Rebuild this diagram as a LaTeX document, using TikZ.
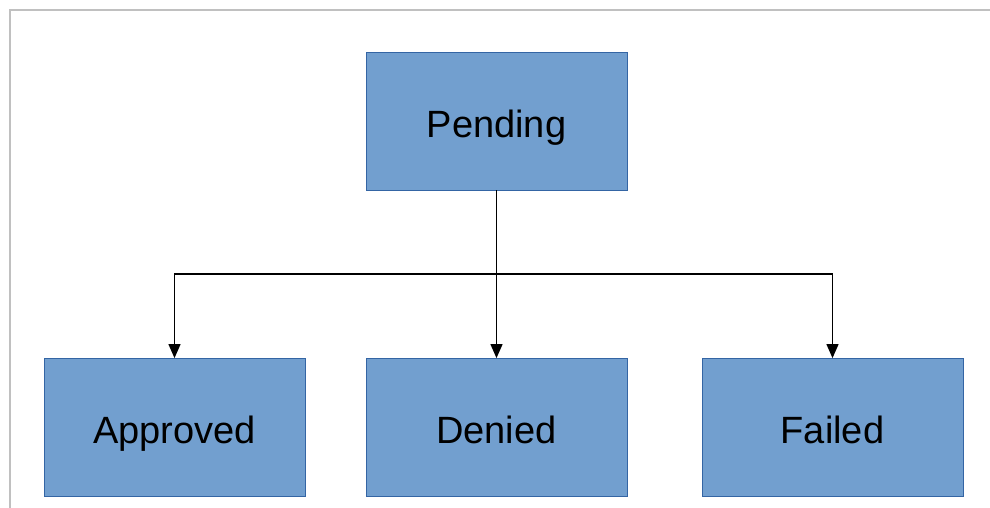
\documentclass[tikz,border=0pt]{standalone}
\usepackage{fontspec}
\setmainfont{Liberation Sans}
\usetikzlibrary{arrows.meta}
\definecolor{boxfill}{HTML}{729FCF}
\definecolor{boxline}{HTML}{3465A4}
\definecolor{frameline}{HTML}{C0C0C0}
\tikzset{
  statebox/.style={draw=boxline, line width=0.8pt, fill=boxfill, minimum width=261pt, minimum height=138pt, inner sep=0pt, text height=36pt, text depth=4pt, font=\fontsize{38}{44}\selectfont, text=black},
  conn/.style={draw=black, line width=1.2pt, -{Triangle[length=14pt,width=12pt]}}
}
\begin{document}
\begin{tikzpicture}[x=1pt,y=-1pt]
\useasboundingbox (0,0) rectangle (990,508);
\draw[frameline, line width=2.5pt] (10,508) -- (10,10) -- (990,10);
\node[statebox] (pending) at (496.5,121) {Pending};
\node[statebox] (approved) at (174.5,427.5) {Approved};
\node[statebox] (denied) at (496.5,427.5) {Denied};
\node[statebox] (failed) at (832.5,427.5) {Failed};
\coordinate (hub) at (496.5,274);
\draw[line width=1.2pt] (pending.south) -- (hub);
\draw[conn] (hub) -- (denied.north);
\draw[conn] (hub) -| (approved.north);
\draw[conn] (hub) -| (failed.north);
\end{tikzpicture}
\end{document}
